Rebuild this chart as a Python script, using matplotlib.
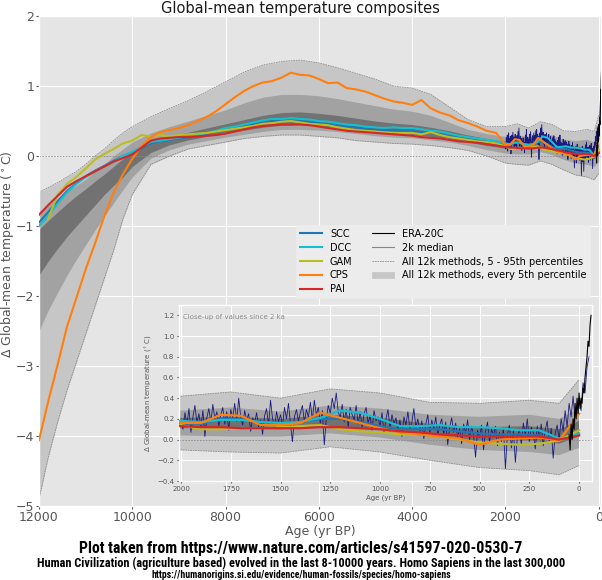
import numpy as np
import matplotlib
matplotlib.use("Agg")
import matplotlib.pyplot as plt
from matplotlib import font_manager
from matplotlib.lines import Line2D
from matplotlib.patches import Patch

plt.style.use("ggplot")

# percentile envelopes of all 12k reconstructions (deg C), sampled ages in yr BP
pct_ages = [12000, 11800, 11600, 11400, 11200, 11000, 10800, 10600, 10400, 10200,
            10000, 9600, 9200, 8800, 8400, 8000, 7600, 7200, 6800, 6400,
            6000, 5600, 5200, 4800, 4400, 4000, 3600, 3200, 2800, 2400,
            2000, 1750, 1500, 1250, 1000, 750, 500, 250, 100, 0]
p95 = [-0.52, -0.45, -0.38, -0.30, -0.22, -0.12, 0.00, 0.10, 0.22, 0.33,
       0.42, 0.56, 0.68, 0.79, 0.92, 1.06, 1.20, 1.30, 1.35, 1.37,
       1.33, 1.26, 1.18, 1.10, 1.00, 0.97, 0.88, 0.70, 0.52, 0.42,
       0.42, 0.46, 0.40, 0.49, 0.45, 0.36, 0.35, 0.38, 0.35, 0.58]
p80 = [-0.80, -0.70, -0.60, -0.50, -0.42, -0.33, -0.22, -0.12, 0.00, 0.10,
       0.20, 0.33, 0.42, 0.50, 0.58, 0.66, 0.76, 0.84, 0.88, 0.88,
       0.86, 0.82, 0.77, 0.72, 0.67, 0.64, 0.58, 0.48, 0.38, 0.32,
       0.28, 0.31, 0.27, 0.33, 0.30, 0.24, 0.22, 0.24, 0.20, 0.30]
p65 = [-1.05, -0.92, -0.80, -0.68, -0.57, -0.47, -0.36, -0.26, -0.15, -0.04,
       0.06, 0.20, 0.28, 0.34, 0.40, 0.46, 0.52, 0.58, 0.62, 0.63,
       0.61, 0.58, 0.54, 0.50, 0.47, 0.45, 0.41, 0.36, 0.30, 0.25,
       0.21, 0.22, 0.20, 0.24, 0.21, 0.15, 0.12, 0.13, 0.10, 0.18]
p50 = [-1.30, -1.15, -1.00, -0.87, -0.75, -0.63, -0.50, -0.38, -0.27, -0.15,
       -0.03, 0.13, 0.22, 0.28, 0.33, 0.38, 0.43, 0.48, 0.51, 0.52,
       0.50, 0.47, 0.44, 0.41, 0.39, 0.37, 0.34, 0.30, 0.25, 0.20,
       0.16, 0.17, 0.15, 0.18, 0.15, 0.09, 0.06, 0.06, 0.03, 0.10]
p35 = [-1.70, -1.50, -1.32, -1.15, -1.00, -0.85, -0.70, -0.55, -0.42, -0.30,
       -0.15, 0.05, 0.16, 0.23, 0.28, 0.32, 0.37, 0.41, 0.44, 0.45,
       0.43, 0.41, 0.38, 0.35, 0.33, 0.31, 0.28, 0.25, 0.20, 0.15,
       0.11, 0.11, 0.10, 0.13, 0.09, 0.03, -0.01, -0.01, -0.04, 0.03]
p20 = [-2.50, -2.20, -1.95, -1.70, -1.48, -1.27, -1.06, -0.86, -0.67, -0.48,
       -0.30, -0.03, 0.09, 0.17, 0.22, 0.27, 0.31, 0.35, 0.38, 0.38,
       0.37, 0.35, 0.32, 0.29, 0.27, 0.26, 0.23, 0.20, 0.15, 0.09,
       0.04, 0.03, 0.03, 0.06, 0.02, -0.05, -0.10, -0.12, -0.15, -0.08]
p5 = [-4.90, -4.30, -3.80, -3.35, -2.95, -2.55, -2.15, -1.75, -1.35, -0.90,
      -0.55, -0.12, 0.00, 0.10, 0.15, 0.20, 0.25, 0.28, 0.30, 0.30,
      0.28, 0.26, 0.22, 0.20, 0.18, 0.17, 0.15, 0.12, 0.08, 0.00,
      -0.10, -0.12, -0.13, -0.07, -0.12, -0.20, -0.27, -0.30, -0.34, -0.25]

# composite medians: 200-yr steps to 2200 BP, then 100-yr steps
comp_ages = np.concatenate([np.arange(12000, 2000, -200), np.arange(2000, -1, -100)])
scc = [-0.95, -0.80, -0.65, -0.50, -0.39, -0.29, -0.21, -0.14, -0.07, 0.00,
       0.05, 0.11, 0.18, 0.21, 0.23, 0.25, 0.27, 0.29, 0.32, 0.35,
       0.38, 0.41, 0.44, 0.46, 0.49, 0.50, 0.51, 0.51, 0.50, 0.49,
       0.47, 0.46, 0.44, 0.42, 0.41, 0.39, 0.38, 0.37, 0.37, 0.36,
       0.36, 0.34, 0.33, 0.31, 0.29, 0.26, 0.24, 0.22, 0.20, 0.18,
       0.16, 0.15, 0.20, 0.20, 0.17, 0.16, 0.17, 0.20, 0.20, 0.17,
       0.13, 0.10, 0.10, 0.10, 0.08, 0.06, 0.05, 0.05, 0.04, 0.00, 0.05]
dcc = [-1.00, -0.85, -0.68, -0.52, -0.40, -0.30, -0.22, -0.15, -0.08, 0.00,
       0.06, 0.13, 0.20, 0.22, 0.24, 0.26, 0.28, 0.30, 0.33, 0.36,
       0.40, 0.42, 0.45, 0.48, 0.51, 0.53, 0.53, 0.54, 0.53, 0.52,
       0.50, 0.49, 0.47, 0.45, 0.44, 0.42, 0.41, 0.40, 0.41, 0.40,
       0.40, 0.38, 0.36, 0.35, 0.32, 0.29, 0.27, 0.25, 0.23, 0.21,
       0.18, 0.17, 0.19, 0.19, 0.17, 0.16, 0.17, 0.21, 0.28, 0.26,
       0.20, 0.13, 0.13, 0.14, 0.12, 0.12, 0.11, 0.09, 0.09, 0.01, 0.06]
gam = [np.nan, -0.89, -0.55, -0.40, -0.30, -0.18, -0.05, 0.03, 0.10, 0.18,
       0.22, 0.30, 0.28, 0.30, 0.28, 0.30, 0.31, 0.32, 0.33, 0.35,
       0.37, 0.39, 0.41, 0.43, 0.46, 0.47, 0.49, 0.50, 0.48, 0.46,
       0.45, 0.44, 0.41, 0.39, 0.37, 0.36, 0.35, 0.34, 0.33, 0.33,
       0.33, 0.31, 0.34, 0.30, 0.27, 0.25, 0.23, 0.21, 0.20, 0.18,
       0.14, 0.10, 0.10, 0.11, 0.11, 0.12, 0.13, 0.14, 0.10, 0.08,
       0.07, 0.05, 0.05, 0.03, 0.00, -0.03, -0.04, -0.05, -0.04, -0.01, 0.09]
cps = [-4.06, -3.50, -2.98, -2.44, -2.03, -1.62, -1.25, -0.86, -0.52, -0.26,
       -0.04, 0.14, 0.27, 0.34, 0.37, 0.40, 0.44, 0.50, 0.56, 0.64,
       0.74, 0.84, 0.93, 1.00, 1.05, 1.07, 1.12, 1.19, 1.16, 1.15,
       1.10, 1.04, 1.05, 0.97, 0.95, 0.92, 0.87, 0.82, 0.78, 0.76,
       0.73, 0.80, 0.68, 0.62, 0.58, 0.51, 0.47, 0.42, 0.36, 0.33,
       0.16, 0.16, 0.24, 0.23, 0.14, 0.14, 0.16, 0.26, 0.21, 0.16,
       0.11, 0.07, 0.05, 0.03, 0.01, -0.05, 0.00, 0.01, 0.02, -0.01, 0.25]
pai = [-0.84, -0.70, -0.57, -0.44, -0.36, -0.29, -0.22, -0.15, -0.08, -0.03,
       0.02, 0.12, 0.22, 0.25, 0.26, 0.27, 0.27, 0.28, 0.29, 0.30,
       0.32, 0.35, 0.38, 0.41, 0.43, 0.44, 0.45, 0.45, 0.45, 0.44,
       0.42, 0.40, 0.38, 0.36, 0.35, 0.34, 0.33, 0.32, 0.31, 0.30,
       0.29, 0.27, 0.26, 0.25, 0.23, 0.21, 0.20, 0.19, 0.17, 0.15,
       0.13, 0.12, 0.12, 0.11, 0.11, 0.11, 0.11, 0.12, 0.12, 0.11,
       0.10, 0.08, 0.07, 0.05, 0.04, 0.03, 0.03, 0.03, 0.03, 0.00, 0.04]

# 2k median, 10-yr steps from 2000 BP to -50 BP
med2k_ages = np.arange(2000, -51, -10)
med2k = [0.18, 0.10, 0.26, 0.14, 0.30, 0.07, 0.22, 0.33, 0.16, 0.25,
         0.12, 0.28, 0.03, 0.21, 0.30, 0.17, 0.34, 0.20, 0.27, 0.13,
         0.24, 0.31, 0.15, 0.27, 0.09, 0.29, 0.21, 0.35, 0.18, 0.40,
         0.22, 0.14, 0.28, 0.19, 0.25, 0.08, 0.21, 0.16, 0.26, 0.12,
         0.19, 0.05, 0.23, 0.30, 0.14, 0.38, 0.20, 0.11, 0.27, 0.17,
         0.24, 0.13, 0.31, 0.20, 0.35, 0.15, -0.02, 0.22, 0.29, 0.18,
         0.26, 0.33, 0.17, 0.29, 0.22, 0.36, 0.19, 0.38, 0.24, 0.31,
         0.16, 0.28, -0.05, 0.20, 0.33, 0.25, 0.40, 0.30, 0.45, 0.27,
         0.21, 0.34, 0.17, 0.29, 0.12, 0.31, 0.24, 0.19, 0.33, 0.15,
         0.27, 0.12, 0.25, 0.31, 0.16, 0.23, 0.09, 0.28, 0.18, 0.22,
         0.13, 0.26, 0.06, 0.20, 0.29, 0.11, 0.24, 0.15, 0.21, 0.08,
         0.19, 0.03, 0.22, 0.14, 0.27, 0.10, 0.17, 0.30, 0.12, 0.20,
         0.08, 0.18, 0.01, 0.15, 0.24, 0.06, 0.19, 0.10, 0.22, 0.04,
         0.14, 0.20, 0.05, 0.17, -0.05, 0.12, 0.21, 0.07, 0.16, 0.02,
         0.11, -0.04, 0.15, 0.06, 0.19, 0.00, 0.13, 0.04, -0.17, 0.09,
         0.02, 0.14, -0.10, 0.08, 0.17, -0.03, 0.10, 0.04, 0.13, -0.06,
         0.07, -0.02, 0.11, -0.28, 0.05, 0.14, -0.08, 0.09, -0.22, 0.03,
         0.10, -0.05, 0.16, 0.04, 0.20, -0.02, 0.12, 0.07, -0.09, 0.13,
         0.02, 0.15, -0.06, 0.09, 0.18, -0.03, 0.11, -0.18, 0.06, 0.14,
         0.00, 0.20, 0.08, 0.28, 0.12, 0.35, 0.22, 0.42, 0.18, 0.33,
         0.40, 0.28, 0.55, 0.45, 0.70, 0.80]

# ERA-20C, 5-yr steps 50 BP (1900 CE) to -60 BP (2010 CE)
era_ages = np.arange(50, -61, -5)
era = [0.05, -0.10, 0.15, 0.00, 0.20, 0.10, 0.35, 0.20, 0.40, 0.25,
       0.45, 0.30, 0.40, 0.35, 0.50, 0.45, 0.60, 0.70, 0.80, 0.95,
       0.90, 1.10, 1.20]

comp_names = ["SCC", "DCC", "GAM", "CPS", "PAI"]
comp_vals = [scc, dcc, gam, cps, pai]
comp_cols = ["#1f77b4", "#17becf", "#bcbd22", "#ff7f0e", "#d62728"]

footer = ["Plot taken from https://www.nature.com/articles/s41597-020-0530-7",
          "Human Civilization (agriculture based) evolved in the last 8-10000 years. Homo Sapiens in the last 300,000",
          "https://humanorigins.si.edu/evidence/human-fossils/species/homo-sapiens"]


def draw(ax, lw):
    ax.fill_between(pct_ages, p5, p95, color="#c6c6c6", lw=0, zorder=1)
    ax.fill_between(pct_ages, p20, p80, color="#a2a2a2", lw=0, zorder=1)
    ax.fill_between(pct_ages, p35, p65, color="#727272", lw=0, zorder=1)
    ax.plot(pct_ages, p5, ls=(0, (2, 1)), color="#8a8a8a", lw=0.6, zorder=2)
    ax.plot(pct_ages, p95, ls=(0, (2, 1)), color="#8a8a8a", lw=0.6, zorder=2)
    ax.axhline(0, ls=(0, (2, 1.5)), color="#8a8a8a", lw=0.6, zorder=2)
    ax.plot(med2k_ages, med2k, color="#1a1a80", lw=0.6, zorder=3)
    for v, c in zip(comp_vals, comp_cols):
        ax.plot(comp_ages, v, color=c, lw=lw, zorder=4)
    ax.plot(era_ages, era, color="black", lw=0.8, zorder=5)


fig = plt.figure(figsize=(6.02, 5.8), dpi=100)
ax = fig.add_axes([39 / 602, 74 / 580, 562 / 602, 490 / 580])
draw(ax, 1.5)
ax.set_xlim(12000, -50)
ax.set_ylim(-5, 2)
ax.set_xticks([12000, 10000, 8000, 6000, 4000, 2000, 0])
ax.set_yticks(range(-5, 3))
ax.tick_params(labelsize=9, length=2, pad=1.5, colors="#555555")
ax.set_xlabel("Age (yr BP)", fontsize=9, color="#555555", labelpad=1)
fig.text(8 / 602, 1 - 254 / 580, r"$\Delta$ Global-mean temperature ($^\circ$C)",
         rotation=90, ha="center", va="center", fontsize=9, color="#555555")
fig.text(300 / 602, 1 - 8 / 580, "Global-mean temperature composites",
         ha="center", va="center", fontsize=10.5, color="#1a1a1a")

handles = [Line2D([], [], color=c, lw=1.5) for c in comp_cols]
handles += [Line2D([], [], color="black", lw=0.8),
            Line2D([], [], color="#8080b8", lw=0.8),
            Line2D([], [], color="#8a8a8a", lw=0.6, ls=(0, (2, 1))),
            Patch(color="#c6c6c6")]
labels = comp_names + ["ERA-20C", "2k median", "All 12k methods, 5 - 95th percentiles",
                       "All 12k methods, every 5th percentile"]
leg = ax.legend(handles, labels, ncol=2, fontsize=7, loc="upper left",
                bbox_to_anchor=(291 / 602, 1 - 220 / 580), bbox_transform=fig.transFigure,
                handlelength=2.3, labelspacing=0.4, columnspacing=2.0,
                facecolor="#ececec", edgecolor="#ececec", framealpha=1)

# inset: last 2000 years
ins = fig.add_axes([179 / 602, 99 / 580, 413 / 602, 176 / 580])
draw(ins, 1.6)
ins.set_xlim(2010, -65)
ins.set_ylim(-0.4, 1.3)
ins.set_xticks([2000, 1750, 1500, 1250, 1000, 750, 500, 250, 0])
ins.set_yticks([-0.4, -0.2, 0.0, 0.2, 0.4, 0.6, 0.8, 1.0, 1.2])
ins.tick_params(labelsize=5, length=1.5, pad=2, colors="#555555")
ins.set_xlabel("Age (yr BP)", fontsize=5, color="#555555", labelpad=2)
ins.set_ylabel(r"$\Delta$ Global-mean temperature ($^\circ$C)", fontsize=5,
               color="#555555", labelpad=2)
ins.text(0.01, 0.93, "Close-up of values since 2 ka", transform=ins.transAxes,
         fontsize=5, color="#8a8a8a", va="center")

# footer in a narrow bold face if one is installed, sized to the reference widths
names = {(f.name, f.stretch) for f in font_manager.fontManager.ttflist}
foot_kw = dict(family="Liberation Sans", fontweight="bold")
for fam in ["Liberation Sans Narrow", "Arial Narrow", "Roboto Condensed", "Open Sans Condensed"]:
    if any(n == fam for n, s in names):
        foot_kw = dict(family=fam, fontweight="bold")
        break
else:
    if ("DejaVu Sans", "condensed") in names:
        foot_kw = dict(family="DejaVu Sans", fontstretch="condensed", fontweight="bold")

foot_y = [548, 563.5, 574.5]
foot_w = [446, 528, 300]
foot_txt = []
for s, yy in zip(footer, foot_y):
    foot_txt.append(fig.text(301 / 602, 1 - yy / 580, s, ha="center", va="center",
                             fontsize=10, **foot_kw))
r = fig.canvas.get_renderer()
for t, w in zip(foot_txt, foot_w):
    t.set_fontsize(10 * w / t.get_window_extent(r).width)

fig.savefig("out.png", dpi=100)
